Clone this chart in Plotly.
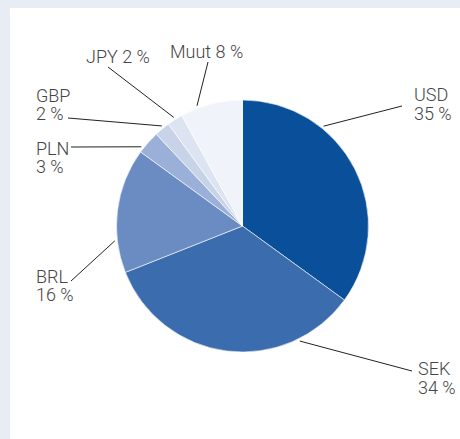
import math
import plotly.graph_objects as go

# Currency split (%)
currencies = ["USD", "SEK", "BRL", "PLN", "GBP", "JPY", "Muut"]
shares = [35, 34, 16, 3, 2, 2, 8]
colors = ["#0a4f99", "#3b6cad", "#6b8cc3", "#9bb0d8", "#c8d3e8", "#dde4f1", "#f0f3fa"]

W, H = 460, 439
cx, cy, R = 242.5, 226, 126

# label layout: where along slice the leader starts, leader tail, text pos, one/two lines
lab_t = [0.31, 0.225, 0.26, 0.19, 0.6, 0.51, 0.28]
lab_tail = [(402, 106), (412, 371), (71, 281), (71, 147), (68, 118), (108, 67), (208, 62)]
lab_x = [413, 417, 35, 35, 35, 85, 169]
lab_y = [94.5, 368.5, 276, 148.5, 95.5, 57, 51.5]
lab_two_lines = [True, True, True, True, True, False, False]

def px(x):
    return x / W

def py(y):
    return 1 - y / H

fig = go.Figure()
fig.add_trace(go.Pie(
    labels=currencies,
    values=shares,
    sort=False,
    direction="clockwise",
    rotation=0,
    marker=dict(colors=colors, line=dict(color="white", width=0.6)),
    textinfo="none",
    hoverinfo="label+percent",
    domain=dict(x=[px(cx - R), px(cx + R)], y=[py(cy + R), py(cy - R)]),
    showlegend=False,
))

shapes = [dict(type="rect", xref="paper", yref="paper", x0=px(10), x1=1, y0=0, y1=py(8),
               fillcolor="white", line=dict(width=0), layer="below")]
annotations = []
font = dict(family="Roboto, Liberation Sans, Arial", size=18, color="#454545", weight=300)

total = sum(shares)
cum = 0
for i, (name, v) in enumerate(zip(currencies, shares)):
    ang = (cum + lab_t[i] * v) / total * 2 * math.pi
    cum += v
    ax0 = cx + 1.02 * R * math.sin(ang)
    ay0 = cy - 1.02 * R * math.cos(ang)
    tx, ty = lab_tail[i]
    shapes.append(dict(type="line", xref="paper", yref="paper",
                       x0=px(ax0), y0=py(ay0), x1=px(tx), y1=py(ty),
                       line=dict(color="#222222", width=1)))
    if lab_two_lines[i]:
        lines = [name, f"{v} %"]
    else:
        lines = [f"{name} {v} %"]
    for k, txt in enumerate(lines):
        annotations.append(dict(text=txt, xref="paper", yref="paper",
                                x=px(lab_x[i]), y=py(lab_y[i] + k * 18.5),
                                xanchor="left", yanchor="middle", showarrow=False,
                                height=17, valign="middle",
                                font=font, borderpad=0))

fig.update_layout(
    width=W, height=H,
    margin=dict(l=0, r=0, t=0, b=0),
    paper_bgcolor="#e7ecf5",
    plot_bgcolor="white",
    shapes=shapes,
    annotations=annotations,
)

fig.write_html("out.html", config={"displayModeBar": False},
               post_script="document.body.style.margin='0';")
